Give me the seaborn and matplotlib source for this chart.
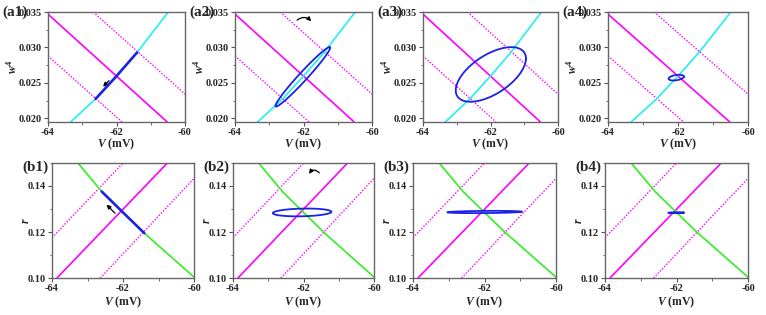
import numpy as np
import pandas as pd
import matplotlib
matplotlib.use("Agg")
import matplotlib.pyplot as plt
import seaborn as sns
from matplotlib.patches import FancyArrowPatch
from matplotlib.ticker import MultipleLocator

# ---- top row nullclines (V, w^4) ----
top_mag_solid_V = [-64.0, -60.52]
top_mag_solid_w = [0.0347, 0.0195]
top_mag_up_V = [-62.68, -60.0]
top_mag_up_w = [0.0350, 0.02343]
top_mag_lo_V = [-64.0, -61.84]
top_mag_lo_w = [0.02881, 0.0195]
cyan_V = [-63.34, -62.61, -62.02, -61.40, -60.49]
cyan_w = [0.0195, 0.02276, 0.02586, 0.02929, 0.0350]

# ---- bottom row nullclines (V, r) ----
bot_mag_solid_V = [-63.86, -60.75]
bot_mag_solid_r = [0.100, 0.150]
bot_mag_up_V = [-64.0, -62.0]
bot_mag_up_r = [0.1175, 0.150]
bot_mag_lo_V = [-62.64, -60.0]
bot_mag_lo_r = [0.100, 0.1433]
green_V = [-63.27, -62.60, -62.00, -61.40, -60.00]
green_r = [0.150, 0.1376, 0.1285, 0.1195, 0.1004]

# ---- a1 / b1 : fixed-point segments ----
a1_seg_V = [-62.61, -62.02, -61.40]
a1_seg_w = [0.02276, 0.02586, 0.02929]
b1_seg_V = [-62.60, -62.00, -61.40]
b1_seg_r = [0.1376, 0.1285, 0.1195]

# ---- limit cycles: centre, amplitudes, phase lag ----
cyc_labels = ["a2", "a3", "a4", "b2", "b3", "b4"]
cyc_cV = [-62.02, -61.99, -62.05, -62.04, -62.00, -62.01]
cyc_cY = [0.02587, 0.02620, 0.02575, 0.1285, 0.1287, 0.1284]
cyc_aV = [0.80, 1.04, 0.22, 0.83, 1.04, 0.22]
cyc_aY = [0.0042, 0.00385, 0.0004, 0.0017, 0.0005, 0.0002]
cyc_phase = [0.21, 0.95, 1.2, 1.4, 1.3, 1.4]

panel_labels_top = ["(a1)", "(a2)", "(a3)", "(a4)"]
panel_labels_bot = ["(b1)", "(b2)", "(b3)", "(b4)"]

sns.set_style("ticks")
plt.rcParams['font.family'] = ['Liberation Serif', 'DejaVu Serif']
plt.rcParams['mathtext.fontset'] = 'custom'
plt.rcParams['mathtext.it'] = 'Liberation Serif:italic:bold'
plt.rcParams['mathtext.rm'] = 'Liberation Serif:bold'

MAG = "#ff00ff"
CYAN = "#22f0f0"
GREEN = "#33ee22"
BLUE = "#1a22e6"
DOT = (0, (1, 1.2))

fig = plt.figure(figsize=(7.66, 3.15), dpi=100)
W, H = 766, 315

top_boxes = [(48, 185), (235, 372), (423, 558), (608, 748)]
bot_boxes = [(52, 194), (233, 374), (413, 556), (605, 748)]


def make_ax(x0, x1, ytop, ybot):
    return fig.add_axes([x0 / W, (H - ybot) / H, (x1 - x0) / W, (ybot - ytop) / H])


def line(ax, x, y, color, lw, ls='-'):
    # estimator=None keeps every point in order (no aggregation)
    sns.lineplot(x=x, y=y, ax=ax, color=color, lw=lw, linestyle=ls,
                 estimator=None, sort=False, errorbar=None)


def style_ax(ax, ylim, ymaj, ymin, ylabel, fmt, xpad, ypad):
    ax.set_xlim(-64, -60)
    ax.set_ylim(*ylim)
    ax.xaxis.set_major_locator(MultipleLocator(2))
    ax.xaxis.set_minor_locator(MultipleLocator(1))
    ax.yaxis.set_major_locator(MultipleLocator(ymaj))
    ax.yaxis.set_minor_locator(MultipleLocator(ymin))
    ax.yaxis.set_major_formatter(plt.FormatStrFormatter(fmt))
    ax.xaxis.set_major_formatter(plt.FormatStrFormatter('%d'))
    ax.tick_params(which='major', length=3, width=0.8, labelsize=7.5, pad=1.5, color='#555555')
    ax.tick_params(which='minor', length=1.8, width=0.6, color='#555555')
    for lab in ax.get_xticklabels() + ax.get_yticklabels():
        lab.set_fontweight('bold')
    for s in ax.spines.values():
        s.set_color('#666666')
        s.set_linewidth(1.0)
    ax.set_xlabel(r'$V$ (mV)', fontsize=8.5, fontweight='bold', labelpad=xpad)
    ax.set_ylabel(ylabel, fontsize=8.5, fontweight='bold', labelpad=ypad)


def cycle(i):
    t = np.linspace(0, 2 * np.pi, 200)
    v = cyc_cV[i] + cyc_aV[i] * np.cos(t)
    y = cyc_cY[i] + cyc_aY[i] * np.cos(t - cyc_phase[i])
    return v, y


def curved_arrow(ax, start, end, rad):
    ax.add_patch(FancyArrowPatch(start, end, arrowstyle='-|>',
                                 connectionstyle='arc3,rad=%s' % rad,
                                 mutation_scale=6, color='black', lw=0.9))


# ---------------- top row ----------------
for k, (x0, x1) in enumerate(top_boxes):
    ax = make_ax(x0, x1, 12, 122)
    line(ax, top_mag_solid_V, top_mag_solid_w, MAG, 1.2)
    line(ax, top_mag_up_V, top_mag_up_w, MAG, 1.0, DOT)
    line(ax, top_mag_lo_V, top_mag_lo_w, MAG, 1.0, DOT)
    line(ax, cyan_V, cyan_w, CYAN, 1.2)
    if k == 0:
        line(ax, a1_seg_V, a1_seg_w, BLUE, 1.9)
        curved_arrow(ax, (-62.16, 0.0256), (-62.45, 0.0242), 0)
    else:
        v, y = cycle(k - 1)
        line(ax, v, y, BLUE, 1.3)
    if k == 1:
        curved_arrow(ax, (-62.25, 0.0336), (-61.72, 0.0334), -0.55)
    style_ax(ax, (0.0195, 0.035), 0.005, 0.0025, r'$w^4$', '%.3f', -0.5, -1)
    fig.text((x0 - 46) / W, (H - 12) / H, panel_labels_top[k],
             fontsize=11, fontweight='bold', va='center', ha='left')

# ---------------- bottom row ----------------
for k, (x0, x1) in enumerate(bot_boxes):
    ax = make_ax(x0, x1, 163, 278)
    line(ax, bot_mag_solid_V, bot_mag_solid_r, MAG, 1.2)
    line(ax, bot_mag_up_V, bot_mag_up_r, MAG, 1.0, DOT)
    line(ax, bot_mag_lo_V, bot_mag_lo_r, MAG, 1.0, DOT)
    line(ax, green_V, green_r, GREEN, 1.2)
    if k == 0:
        line(ax, b1_seg_V, b1_seg_r, BLUE, 1.9)
        curved_arrow(ax, (-62.17, 0.1273), (-62.52, 0.1328), 0)
    else:
        v, y = cycle(k + 2)
        line(ax, v, y, BLUE, 1.3)
    if k == 1:
        curved_arrow(ax, (-61.50, 0.1448), (-61.88, 0.1442), 0.8)
    style_ax(ax, (0.10, 0.15), 0.02, 0.01, r'$r$', '%.2f', 1, -3)
    fig.text((x0 - 30) / W, (H - 167) / H, panel_labels_bot[k],
             fontsize=11, fontweight='bold', va='center', ha='left')

fig.savefig("out.png", dpi=100)
